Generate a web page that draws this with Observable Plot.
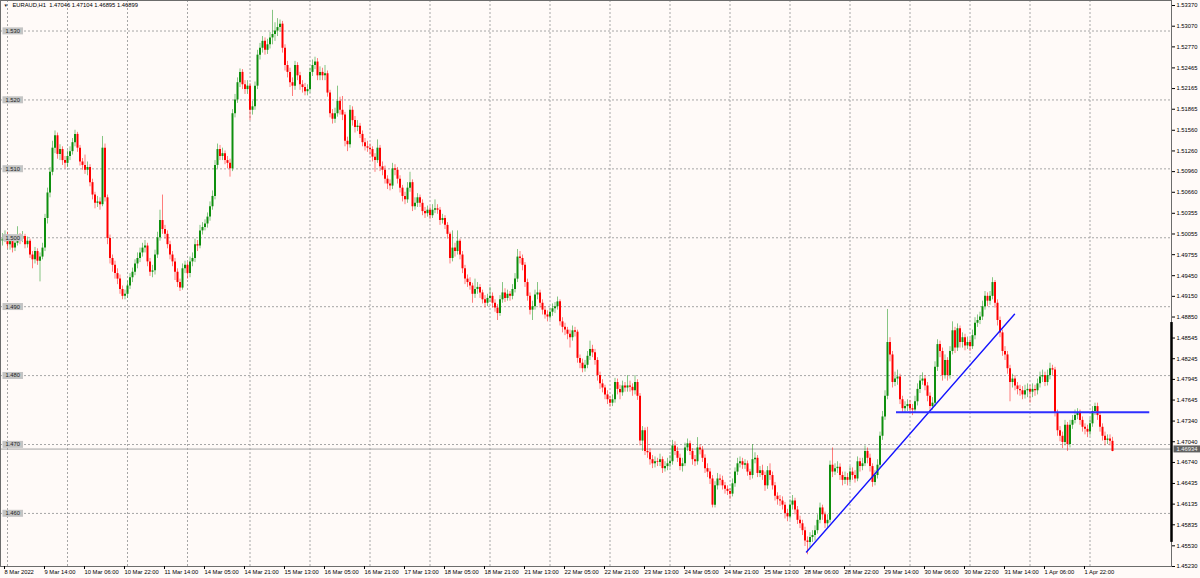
<!DOCTYPE html>
<html><head><meta charset="utf-8">
<script src="https://cdn.jsdelivr.net/npm/d3@7"></script>
<script src="https://cdn.jsdelivr.net/npm/@observablehq/plot@0.6"></script>
<style>
html,body{margin:0;padding:0;background:#fffaf8;}
#chart{width:1200px;height:578px;overflow:hidden;}
svg{display:block;}
</style></head><body><div id="chart"></div>
<script>
const symbol = "EURAUD,H1";

const open = [
1.4995,1.4998,1.5003,1.4990,1.4996,1.4985,1.4992,1.5000,1.4998,1.5002,
1.4990,1.4995,1.4975,1.4968,1.4980,1.4966,1.4972,1.4985,1.5028,1.5065,
1.5095,1.5130,1.5148,1.5121,1.5128,1.5112,1.5108,1.5118,1.5125,1.5138,
1.5150,1.5130,1.5110,1.5105,1.5098,1.5102,1.5080,1.5062,1.5050,1.5052,
1.5048,1.5130,1.5058,1.4999,1.4970,1.4960,1.4948,1.4940,1.4925,1.4915,
1.4918,1.4930,1.4942,1.4950,1.4962,1.4970,1.4978,1.4985,1.4988,1.4965,
1.4950,1.4952,1.4975,1.5000,1.5025,1.5012,1.5005,1.4990,1.4975,1.4965,
1.4950,1.4935,1.4927,1.4955,1.4960,1.4948,1.4965,1.4970,1.4990,1.4988,
1.5010,1.5015,1.5020,1.5030,1.5045,1.5060,1.5105,1.5128,1.5118,1.5122,
1.5112,1.5108,1.5100,1.5180,1.5200,1.5225,1.5240,1.5222,1.5215,1.5220,
1.5185,1.5190,1.5220,1.5265,1.5275,1.5285,1.5272,1.5280,1.5290,1.5295,
1.5300,1.5305,1.5310,1.5275,1.5250,1.5240,1.5225,1.5220,1.5250,1.5235,
1.5222,1.5218,1.5212,1.5215,1.5240,1.5250,1.5255,1.5235,1.5240,1.5235,
1.5238,1.5210,1.5180,1.5172,1.5180,1.5198,1.5185,1.5178,1.5140,1.5135,
1.5185,1.5170,1.5160,1.5162,1.5150,1.5138,1.5132,1.5130,1.5128,1.5117,
1.5112,1.5130,1.5103,1.5098,1.5085,1.5078,1.5075,1.5100,1.5098,1.5085,
1.5072,1.5060,1.5055,1.5072,1.5080,1.5045,1.5050,1.5058,1.5050,1.5038,
1.5035,1.5040,1.5032,1.5040,1.5042,1.5040,1.5025,1.5028,1.5018,1.5005,
1.4970,1.4985,1.4980,1.4995,1.4975,1.4955,1.4940,1.4935,1.4930,1.4918,
1.4925,1.4928,1.4920,1.4910,1.4905,1.4912,1.4915,1.4905,1.4898,1.4890,
1.4910,1.4920,1.4912,1.4918,1.4915,1.4925,1.4940,1.4972,1.4970,1.4960,
1.4935,1.4915,1.4895,1.4900,1.4917,1.4920,1.4905,1.4895,1.4888,1.4885,
1.4892,1.4897,1.4900,1.4907,1.4878,1.4870,1.4866,1.4860,1.4855,1.4865,
1.4863,1.4825,1.4818,1.4810,1.4815,1.4828,1.4838,1.4833,1.4822,1.4800,
1.4788,1.4782,1.4772,1.4765,1.4760,1.4765,1.4790,1.4780,1.4775,1.4785,
1.4782,1.4785,1.4783,1.4778,1.4790,1.4770,1.4705,1.4720,1.4690,1.4688,
1.4678,1.4672,1.4675,1.4674,1.4678,1.4665,1.4668,1.4672,1.4675,1.4698,
1.4690,1.4680,1.4668,1.4672,1.4695,1.4701,1.4690,1.4678,1.4675,1.4695,
1.4692,1.4680,1.4665,1.4660,1.4650,1.4612,1.4640,1.4650,1.4648,1.4640,
1.4635,1.4632,1.4628,1.4643,1.4660,1.4672,1.4675,1.4670,1.4672,1.4660,
1.4655,1.4678,1.4680,1.4658,1.4662,1.4655,1.4640,1.4662,1.4655,1.4640,
1.4625,1.4620,1.4618,1.4612,1.4600,1.4595,1.4612,1.4618,1.4605,1.4590,
1.4585,1.4575,1.4560,1.4558,1.4565,1.4568,1.4575,1.4590,1.4608,1.4598,
1.4585,1.4590,1.4670,1.4660,1.4665,1.4667,1.4655,1.4648,1.4652,1.4648,
1.4660,1.4655,1.4650,1.4675,1.4668,1.4672,1.4690,1.4680,1.4668,1.4645,
1.4655,1.4670,1.4712,1.4740,1.4770,1.4848,1.4830,1.4790,1.4795,1.4798,
1.4765,1.4752,1.4755,1.4758,1.4752,1.4750,1.4762,1.4780,1.4792,1.4795,
1.4785,1.4770,1.4755,1.4760,1.4812,1.4845,1.4835,1.4800,1.4822,1.4800,
1.4835,1.4865,1.4840,1.4868,1.4848,1.4855,1.4843,1.4848,1.4842,1.4858,
1.4876,1.4880,1.4885,1.4900,1.4915,1.4908,1.4915,1.4935,1.4905,1.4880,
1.4862,1.4835,1.4830,1.4810,1.4790,1.4795,1.4785,1.4780,1.4778,1.4772,
1.4778,1.4780,1.4776,1.4780,1.4778,1.4788,1.4798,1.4800,1.4790,1.4800,
1.4810,1.4808,1.4745,1.4720,1.4712,1.4703,1.4728,1.4700,1.4728,1.4735,
1.4742,1.4745,1.4735,1.4725,1.4722,1.4718,1.4730,1.4748,1.4755,1.4742,
1.4725,1.4712,1.4706,1.4708,1.47046];

const high = [
1.5006,1.5010,1.5008,1.5002,1.5000,1.4998,1.5016,1.5006,1.5009,1.5005,
1.5001,1.4998,1.4980,1.4986,1.4984,1.4978,1.4992,1.5034,1.5072,1.5102,
1.5140,1.5155,1.5152,1.5135,1.5132,1.5118,1.5126,1.5132,1.5144,1.5156,
1.5153,1.5134,1.5115,1.5120,1.5110,1.5106,1.5085,1.5066,1.5060,1.5058,
1.5147,1.5136,1.5062,1.5004,1.4975,1.4966,1.4955,1.4946,1.4930,1.4924,
1.4936,1.4948,1.4956,1.4968,1.4978,1.4985,1.4992,1.4996,1.4992,1.4970,
1.4960,1.4982,1.5008,1.5040,1.5062,1.5018,1.5010,1.4995,1.4980,1.4970,
1.4955,1.4940,1.4962,1.4966,1.4964,1.4972,1.4978,1.4998,1.4996,1.5018,
1.5022,1.5026,1.5036,1.5052,1.5068,1.5112,1.5136,1.5134,1.5130,1.5126,
1.5118,1.5114,1.5186,1.5208,1.5232,1.5245,1.5244,1.5228,1.5228,1.5224,
1.5198,1.5226,1.5272,1.5282,1.5292,1.5290,1.5288,1.5298,1.5330,1.5312,
1.5318,1.5316,1.5314,1.5280,1.5256,1.5246,1.5232,1.5256,1.5254,1.5240,
1.5228,1.5224,1.5222,1.5246,1.5258,1.5262,1.5260,1.5248,1.5246,1.5250,
1.5242,1.5214,1.5186,1.5188,1.5220,1.5204,1.5205,1.5182,1.5146,1.5192,
1.5190,1.5176,1.5170,1.5166,1.5155,1.5144,1.5140,1.5136,1.5132,1.5122,
1.5142,1.5134,1.5110,1.5104,1.5090,1.5084,1.5108,1.5106,1.5102,1.5090,
1.5076,1.5066,1.5080,1.5095,1.5084,1.5058,1.5064,1.5062,1.5055,1.5044,
1.5046,1.5045,1.5048,1.5055,1.5048,1.5044,1.5034,1.5032,1.5022,1.5008,
1.5010,1.4992,1.5010,1.4998,1.4980,1.4960,1.4946,1.4942,1.4934,1.4940,
1.4935,1.4932,1.4924,1.4916,1.4918,1.4928,1.4920,1.4910,1.4903,1.4916,
1.4935,1.4926,1.4924,1.4922,1.4932,1.4948,1.4983,1.4980,1.4975,1.4964,
1.4940,1.4920,1.4908,1.4924,1.4935,1.4924,1.4910,1.4900,1.4894,1.4898,
1.4904,1.4906,1.4914,1.4910,1.4884,1.4876,1.4870,1.4866,1.4872,1.4870,
1.4866,1.4830,1.4824,1.4822,1.4835,1.4850,1.4844,1.4838,1.4826,1.4805,
1.4794,1.4786,1.4778,1.4770,1.4772,1.4796,1.4795,1.4786,1.4792,1.4790,
1.4800,1.4792,1.4788,1.4800,1.4794,1.4774,1.4726,1.4724,1.4725,1.4694,
1.4684,1.4682,1.4680,1.4686,1.4682,1.4675,1.4680,1.4684,1.4706,1.4704,
1.4696,1.4686,1.4680,1.4702,1.4708,1.4705,1.4694,1.4684,1.4710,1.4700,
1.4697,1.4685,1.4672,1.4665,1.4655,1.4646,1.4658,1.4656,1.4654,1.4645,
1.4640,1.4636,1.4650,1.4666,1.4680,1.4682,1.4680,1.4678,1.4676,1.4664,
1.4700,1.4688,1.4684,1.4668,1.4670,1.4660,1.4668,1.4672,1.4660,1.4645,
1.4630,1.4626,1.4624,1.4616,1.4606,1.4620,1.4626,1.4622,1.4610,1.4596,
1.4590,1.4580,1.4566,1.4572,1.4575,1.4582,1.4598,1.4615,1.4612,1.4602,
1.4598,1.4676,1.4695,1.4672,1.4675,1.4672,1.4660,1.4660,1.4658,1.4668,
1.4666,1.4662,1.4682,1.4680,1.4680,1.4698,1.4695,1.4686,1.4672,1.4662,
1.4678,1.4718,1.4748,1.4778,1.4896,1.4855,1.4835,1.4805,1.4808,1.4802,
1.4770,1.4762,1.4765,1.4764,1.4758,1.4770,1.4788,1.4800,1.4804,1.4800,
1.4790,1.4775,1.4768,1.4820,1.4852,1.4850,1.4840,1.4830,1.4826,1.4842,
1.4878,1.4870,1.4875,1.4872,1.4862,1.4860,1.4856,1.4854,1.4866,1.4884,
1.4888,1.4892,1.4908,1.4922,1.4920,1.4922,1.4942,1.4938,1.4910,1.4885,
1.4866,1.4842,1.4835,1.4815,1.4802,1.4800,1.4790,1.4786,1.4784,1.4786,
1.4788,1.4786,1.4788,1.4786,1.4795,1.4805,1.4808,1.4805,1.4808,1.4818,
1.4815,1.4812,1.4750,1.4726,1.4718,1.4735,1.4732,1.4735,1.4742,1.4750,
1.4752,1.4750,1.4740,1.4730,1.4728,1.4738,1.4755,1.4760,1.4760,1.4746,
1.4730,1.4718,1.4714,1.4714,1.47104];

const low = [
1.4988,1.4993,1.4984,1.4982,1.4978,1.4980,1.4988,1.4990,1.4993,1.4984,
1.4985,1.4970,1.4955,1.4962,1.4960,1.4936,1.4968,1.4980,1.5020,1.5058,
1.5090,1.5122,1.5114,1.5112,1.5105,1.5100,1.5102,1.5112,1.5120,1.5132,
1.5124,1.5104,1.5098,1.5092,1.5090,1.5074,1.5055,1.5042,1.5044,1.5040,
1.5045,1.5052,1.4990,1.4962,1.4950,1.4940,1.4932,1.4918,1.4910,1.4910,
1.4912,1.4925,1.4935,1.4945,1.4955,1.4964,1.4972,1.4978,1.4958,1.4944,
1.4942,1.4946,1.4970,1.4995,1.5005,1.4998,1.4984,1.4968,1.4958,1.4938,
1.4928,1.4922,1.4924,1.4948,1.4940,1.4942,1.4958,1.4964,1.4980,1.4984,
1.5004,1.5010,1.5014,1.5024,1.5040,1.5055,1.5100,1.5112,1.5112,1.5106,
1.5100,1.5088,1.5096,1.5174,1.5195,1.5218,1.5215,1.5208,1.5208,1.5170,
1.5178,1.5185,1.5215,1.5258,1.5268,1.5265,1.5266,1.5274,1.5280,1.5285,
1.5292,1.5298,1.5268,1.5242,1.5232,1.5218,1.5205,1.5214,1.5228,1.5214,
1.5210,1.5206,1.5206,1.5210,1.5234,1.5244,1.5228,1.5228,1.5228,1.5228,
1.5204,1.5174,1.5165,1.5166,1.5175,1.5178,1.5170,1.5132,1.5125,1.5130,
1.5162,1.5152,1.5154,1.5144,1.5132,1.5126,1.5124,1.5120,1.5110,1.5095,
1.5108,1.5096,1.5090,1.5078,1.5070,1.5068,1.5070,1.5090,1.5078,1.5065,
1.5052,1.5048,1.5050,1.5066,1.5038,1.5040,1.5044,1.5044,1.5032,1.5028,
1.5030,1.5026,1.5028,1.5035,1.5034,1.5018,1.5020,1.5012,1.4998,1.4962,
1.4965,1.4972,1.4975,1.4968,1.4948,1.4932,1.4928,1.4924,1.4905,1.4912,
1.4918,1.4912,1.4904,1.4898,1.4900,1.4906,1.4898,1.4892,1.4880,1.4886,
1.4905,1.4906,1.4908,1.4908,1.4910,1.4920,1.4935,1.4962,1.4952,1.4928,
1.4908,1.4888,1.4880,1.4895,1.4910,1.4898,1.4888,1.4882,1.4878,1.4880,
1.4886,1.4890,1.4895,1.4872,1.4862,1.4858,1.4852,1.4840,1.4850,1.4856,
1.4818,1.4810,1.4804,1.4805,1.4810,1.4822,1.4826,1.4815,1.4792,1.4780,
1.4775,1.4765,1.4758,1.4754,1.4755,1.4760,1.4772,1.4765,1.4770,1.4776,
1.4776,1.4776,1.4770,1.4772,1.4764,1.4698,1.4690,1.4684,1.4680,1.4670,
1.4665,1.4666,1.4668,1.4668,1.4658,1.4660,1.4662,1.4666,1.4670,1.4684,
1.4674,1.4662,1.4660,1.4668,1.4690,1.4684,1.4670,1.4668,1.4670,1.4685,
1.4674,1.4658,1.4652,1.4642,1.4608,1.4608,1.4634,1.4640,1.4634,1.4628,
1.4626,1.4620,1.4624,1.4638,1.4655,1.4666,1.4664,1.4664,1.4654,1.4648,
1.4650,1.4672,1.4652,1.4652,1.4648,1.4632,1.4635,1.4648,1.4634,1.4618,
1.4612,1.4610,1.4605,1.4592,1.4588,1.4590,1.4605,1.4598,1.4584,1.4578,
1.4568,1.4552,1.4540,1.4550,1.4558,1.4560,1.4570,1.4585,1.4590,1.4578,
1.4578,1.4586,1.4652,1.4655,1.4658,1.4648,1.4640,1.4642,1.4640,1.4642,
1.4648,1.4644,1.4646,1.4660,1.4662,1.4668,1.4672,1.4660,1.4638,1.4640,
1.4650,1.4665,1.4706,1.4735,1.4765,1.4820,1.4782,1.4784,1.4786,1.4758,
1.4745,1.4746,1.4748,1.4745,1.4742,1.4745,1.4756,1.4774,1.4786,1.4778,
1.4762,1.4748,1.4750,1.4755,1.4806,1.4826,1.4792,1.4795,1.4792,1.4795,
1.4830,1.4832,1.4835,1.4840,1.4840,1.4836,1.4838,1.4835,1.4838,1.4852,
1.4870,1.4874,1.4880,1.4895,1.4900,1.4902,1.4910,1.4898,1.4872,1.4855,
1.4828,1.4822,1.4802,1.4762,1.4782,1.4778,1.4772,1.4770,1.4765,1.4766,
1.4768,1.4760,1.4768,1.4770,1.4772,1.4782,1.4790,1.4784,1.4785,1.4794,
1.4800,1.4740,1.4712,1.4704,1.4694,1.4698,1.4690,1.4695,1.4722,1.4730,
1.4736,1.4728,1.4718,1.4714,1.4710,1.4712,1.4725,1.4742,1.4735,1.4718,
1.4705,1.4698,1.4700,1.4698,1.46895];

const close = [
1.4998,1.5003,1.4990,1.4996,1.4985,1.4992,1.5000,1.4998,1.5002,1.4990,
1.4995,1.4975,1.4968,1.4980,1.4966,1.4972,1.4985,1.5028,1.5065,1.5095,
1.5130,1.5148,1.5121,1.5128,1.5112,1.5108,1.5118,1.5125,1.5138,1.5150,
1.5130,1.5110,1.5105,1.5098,1.5102,1.5080,1.5062,1.5050,1.5052,1.5048,
1.5130,1.5058,1.4999,1.4970,1.4960,1.4948,1.4940,1.4925,1.4915,1.4918,
1.4930,1.4942,1.4950,1.4962,1.4970,1.4978,1.4985,1.4988,1.4965,1.4950,
1.4952,1.4975,1.5000,1.5025,1.5012,1.5005,1.4990,1.4975,1.4965,1.4950,
1.4935,1.4927,1.4955,1.4960,1.4948,1.4965,1.4970,1.4990,1.4988,1.5010,
1.5015,1.5020,1.5030,1.5045,1.5060,1.5105,1.5128,1.5118,1.5122,1.5112,
1.5108,1.5100,1.5180,1.5200,1.5225,1.5240,1.5222,1.5215,1.5220,1.5185,
1.5190,1.5220,1.5265,1.5275,1.5285,1.5272,1.5280,1.5290,1.5295,1.5300,
1.5305,1.5310,1.5275,1.5250,1.5240,1.5225,1.5220,1.5250,1.5235,1.5222,
1.5218,1.5212,1.5215,1.5240,1.5250,1.5255,1.5235,1.5240,1.5235,1.5238,
1.5210,1.5180,1.5172,1.5180,1.5198,1.5185,1.5178,1.5140,1.5135,1.5185,
1.5170,1.5160,1.5162,1.5150,1.5138,1.5132,1.5130,1.5128,1.5117,1.5112,
1.5130,1.5103,1.5098,1.5085,1.5078,1.5075,1.5100,1.5098,1.5085,1.5072,
1.5060,1.5055,1.5072,1.5080,1.5045,1.5050,1.5058,1.5050,1.5038,1.5035,
1.5040,1.5032,1.5040,1.5042,1.5040,1.5025,1.5028,1.5018,1.5005,1.4970,
1.4985,1.4980,1.4995,1.4975,1.4955,1.4940,1.4935,1.4930,1.4918,1.4925,
1.4928,1.4920,1.4910,1.4905,1.4912,1.4915,1.4905,1.4898,1.4890,1.4910,
1.4920,1.4912,1.4918,1.4915,1.4925,1.4940,1.4972,1.4970,1.4960,1.4935,
1.4915,1.4895,1.4900,1.4917,1.4920,1.4905,1.4895,1.4888,1.4885,1.4892,
1.4897,1.4900,1.4907,1.4878,1.4870,1.4866,1.4860,1.4855,1.4865,1.4863,
1.4825,1.4818,1.4810,1.4815,1.4828,1.4838,1.4833,1.4822,1.4800,1.4788,
1.4782,1.4772,1.4765,1.4760,1.4765,1.4790,1.4780,1.4775,1.4785,1.4782,
1.4785,1.4783,1.4778,1.4790,1.4770,1.4705,1.4720,1.4690,1.4688,1.4678,
1.4672,1.4675,1.4674,1.4678,1.4665,1.4668,1.4672,1.4675,1.4698,1.4690,
1.4680,1.4668,1.4672,1.4695,1.4701,1.4690,1.4678,1.4675,1.4695,1.4692,
1.4680,1.4665,1.4660,1.4650,1.4612,1.4640,1.4650,1.4648,1.4640,1.4635,
1.4632,1.4628,1.4643,1.4660,1.4672,1.4675,1.4670,1.4672,1.4660,1.4655,
1.4678,1.4680,1.4658,1.4662,1.4655,1.4640,1.4662,1.4655,1.4640,1.4625,
1.4620,1.4618,1.4612,1.4600,1.4595,1.4612,1.4618,1.4605,1.4590,1.4585,
1.4575,1.4560,1.4558,1.4565,1.4568,1.4575,1.4590,1.4608,1.4598,1.4585,
1.4590,1.4670,1.4660,1.4665,1.4667,1.4655,1.4648,1.4652,1.4648,1.4660,
1.4655,1.4650,1.4675,1.4668,1.4672,1.4690,1.4680,1.4668,1.4645,1.4655,
1.4670,1.4712,1.4740,1.4770,1.4848,1.4830,1.4790,1.4795,1.4798,1.4765,
1.4752,1.4755,1.4758,1.4752,1.4750,1.4762,1.4780,1.4792,1.4795,1.4785,
1.4770,1.4755,1.4760,1.4812,1.4845,1.4835,1.4800,1.4822,1.4800,1.4835,
1.4865,1.4840,1.4868,1.4848,1.4855,1.4843,1.4848,1.4842,1.4858,1.4876,
1.4880,1.4885,1.4900,1.4915,1.4908,1.4915,1.4935,1.4905,1.4880,1.4862,
1.4835,1.4830,1.4810,1.4790,1.4795,1.4785,1.4780,1.4778,1.4772,1.4778,
1.4780,1.4776,1.4780,1.4778,1.4788,1.4798,1.4800,1.4790,1.4800,1.4810,
1.4808,1.4745,1.4720,1.4712,1.4703,1.4728,1.4700,1.4728,1.4735,1.4742,
1.4745,1.4735,1.4725,1.4722,1.4718,1.4730,1.4748,1.4755,1.4742,1.4725,
1.4712,1.4706,1.4708,1.47046,1.46899];

// time axis: bar index of each label and its text
const dateTickBars = [0,16,32,48,64,80,96,112,128,144,160,176,192,208,224,240,256,272,288,304,320,336,352,368,384,400,416,432];
const dateTickLabels = ["8 Mar 2022","9 Mar 14:00","10 Mar 06:00","10 Mar 22:00","11 Mar 14:00","14 Mar 05:00","14 Mar 21:00","15 Mar 13:00","16 Mar 05:00","16 Mar 21:00","17 Mar 13:00","18 Mar 05:00","18 Mar 21:00","21 Mar 13:00","22 Mar 05:00","22 Mar 21:00","23 Mar 13:00","24 Mar 05:00","24 Mar 21:00","25 Mar 13:00","28 Mar 06:00","28 Mar 22:00","29 Mar 14:00","30 Mar 06:00","30 Mar 22:00","31 Mar 14:00","1 Apr 06:00","1 Apr 22:00"];
const daySeparatorBars = [2,26,50,74,99,123,147,171,195,219,243,267,291,315,339,363,387,411,435];

// price axis
const priceTicks = [1.53370,1.53070,1.52770,1.52465,1.52165,1.51865,1.51560,1.51260,1.50960,1.50660,1.50355,1.50055,1.49755,1.49450,1.49150,1.48850,1.48545,1.48245,1.47945,1.47645,1.47340,1.47040,1.46740,1.46435,1.46135,1.45835,1.45530,1.45230];
const roundLevels = [1.530,1.520,1.510,1.500,1.490,1.480,1.470,1.460];
const lastPrice = 1.46934;

// drawn objects
const trendBars = [321.6, 404.8];
const trendPrices = [1.4544, 1.4889];
const levelBars = [357.6, 458.9];
const levelPrice = 1.4747;
const rangeMarker = [1.4877, 1.4558];

const xDomain = [-0.8, 467.6];
const yDomain = [1.4523, 1.53443];

const candles = close.map((c, i) => ({i, o: open[i], h: high[i], l: low[i], c}))
  .filter(d => d.o != null && d.h != null && d.l != null);
const UP = "#0e8f0e", DOWN = "#ff0000";
const col = d => d.c >= d.o ? UP : DOWN;
const last = close.length - 1;
const f5 = d3.format(".5f");
const f3 = d3.format(".3f");
const header = `${symbol}  ${f5(open[last])} ${f5(high[last])} ${f5(low[last])} ${f5(close[last])}`;
const FS = 5.8;

const chart = Plot.plot({
  width: 1200, height: 578,
  marginLeft: 0, marginRight: 29, marginTop: 0, marginBottom: 12,
  style: {background: "#fffaf8", fontFamily: "'Liberation Sans', Arial, sans-serif", fontSize: FS + "px", color: "#000", overflow: "visible"},
  x: {domain: xDomain},
  y: {domain: yDomain},
  marks: [
    Plot.ruleY(roundLevels, {stroke: "#a6a6a6", strokeDasharray: "2,2"}),
    Plot.ruleX(daySeparatorBars, {stroke: "#a6a6a6", strokeDasharray: "2,2"}),
    Plot.ruleY([lastPrice], {stroke: "#a4a4a4"}),
    Plot.ruleX(candles, {x: "i", y1: "l", y2: "h", stroke: col, strokeOpacity: 0.5, strokeWidth: 1}),
    Plot.ruleX(candles, {x: "i", y1: "o", y2: "c", stroke: col, strokeWidth: 2}),
    Plot.line(trendBars.map((b, k) => ({b, p: trendPrices[k]})), {x: "b", y: "p", stroke: "#1414ff", strokeWidth: 1.4}),
    Plot.ruleY([{p: levelPrice, a: levelBars[0], b: levelBars[1]}], {y: "p", x1: "a", x2: "b", stroke: "#2f2fff", strokeWidth: 2}),
    Plot.frame({stroke: "#6c6c6c"}),
    Plot.ruleX([{x: xDomain[1], a: rangeMarker[0], b: rangeMarker[1]}], {x: "x", y1: "a", y2: "b", stroke: "#000", strokeWidth: 2.5}),
    Plot.axisX({ticks: dateTickBars, tickFormat: d => dateTickLabels[dateTickBars.indexOf(d)], tickSize: 3, tickPadding: 0, textAnchor: "start", dx: 2, fontSize: FS, label: null}),
    Plot.axisY({anchor: "right", ticks: priceTicks, tickFormat: f5, tickSize: 3, tickPadding: 2, fontSize: FS, label: null}),
    Plot.text(roundLevels, {y: d => d, frameAnchor: "left", dx: 5, text: f3, textAnchor: "start", fill: "#1e1e1e", fontSize: FS}),
    Plot.text([lastPrice], {y: d => d, frameAnchor: "right", dx: 5, text: f5, textAnchor: "start", fill: "#f0f0f0", fontSize: FS}),
    Plot.text([header], {frameAnchor: "top-left", dx: 12, dy: 2.5, text: d => d, textAnchor: "start", lineAnchor: "top", fill: "#000", fontSize: FS}),
    Plot.text(["▼"], {frameAnchor: "top-left", dx: 3, dy: 3, text: d => d, textAnchor: "start", lineAnchor: "top", fill: "#222", fontSize: 4.5})
  ]
});
document.getElementById("chart").append(chart);

// label backgrounds (grey boxes behind round-level labels, dark box behind the current price)
const ns = "http://www.w3.org/2000/svg";
function addBox(t, fill, px, py) {
  const b = t.getBBox();
  const r = document.createElementNS(ns, "rect");
  r.setAttribute("x", b.x - px);
  r.setAttribute("y", b.y - py);
  r.setAttribute("width", b.width + 2 * px);
  r.setAttribute("height", b.height + 2 * py);
  r.setAttribute("fill", fill);
  const tr = t.getAttribute("transform");
  if (tr) r.setAttribute("transform", tr);
  t.parentNode.insertBefore(r, t);
}
const levelStrings = new Set(roundLevels.map(f3));
const lastString = f5(lastPrice);
Array.from(chart.querySelectorAll("text")).forEach(t => {
  const s = t.textContent.trim();
  if (levelStrings.has(s)) addBox(t, "#c4c4c4", 3, 0.5);
  else if (s === lastString) addBox(t, "#606060", 3, 0.5);
});
</script>
</body></html>
